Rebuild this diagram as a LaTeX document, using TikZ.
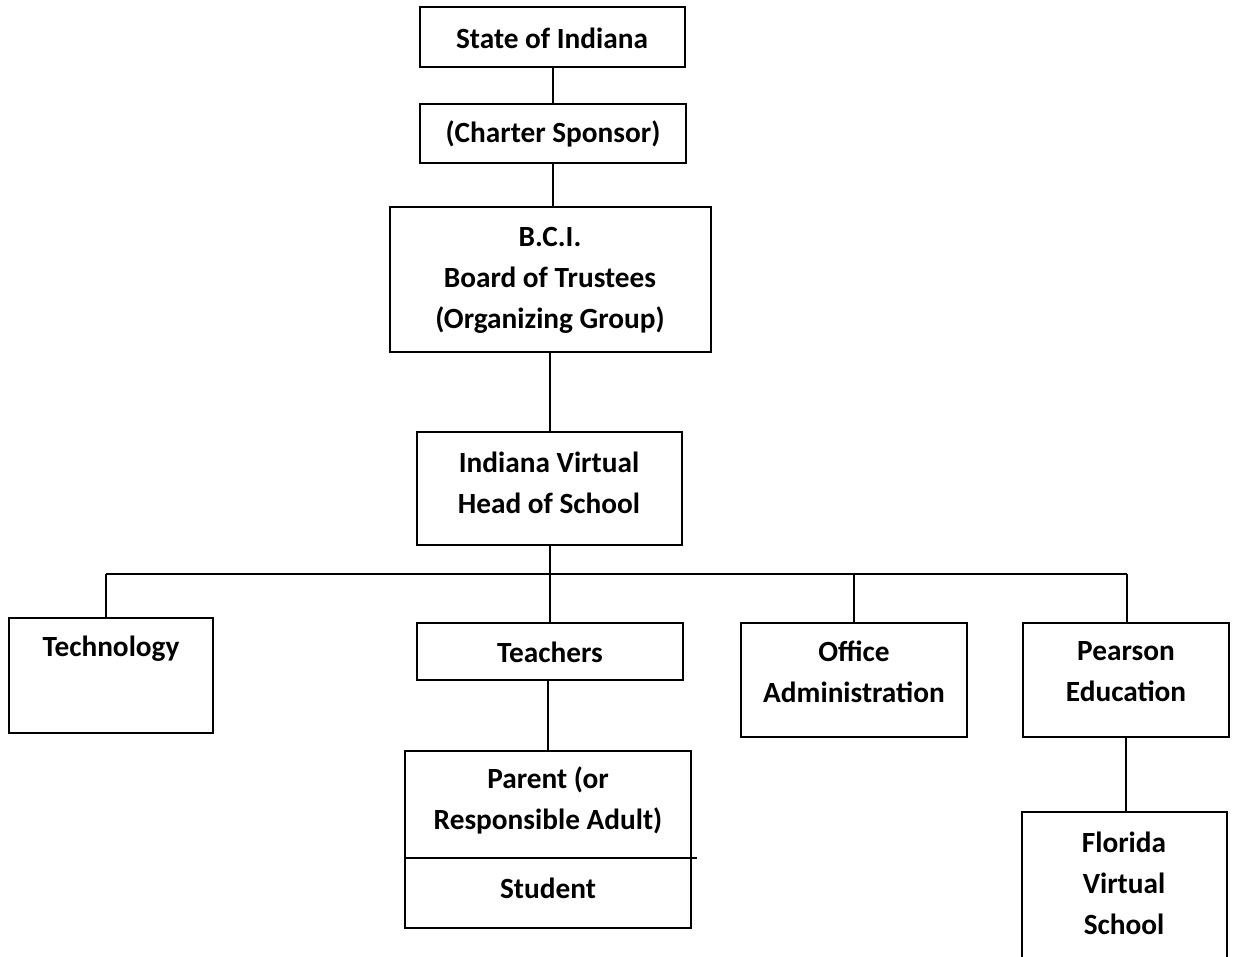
\documentclass[tikz,border=0pt]{standalone}
\usepackage{fontspec}
\setmainfont{Carlito}
\begin{document}
\begin{tikzpicture}[x=1pt,y=-1pt,
  box/.style={draw=black,line width=2pt,inner sep=0pt,rectangle},
  link/.style={draw=black,line width=2pt},
  txt/.style={align=center,inner sep=0pt,font=\fontsize{29.3}{41}\selectfont\bfseries}]
\clip (0,0) rectangle (1233,957);
\fill[white] (0,0) rectangle (1233,957);
% boxes
\node[box,minimum width=265pt,minimum height=60pt] (state) at (552.5,37) {};
\node[box,minimum width=266pt,minimum height=59pt] (charter) at (553,133.5) {};
\node[box,minimum width=321pt,minimum height=145pt] (bci) at (550.5,279.5) {};
\node[box,minimum width=265pt,minimum height=113pt] (ivhs) at (549.5,488.5) {};
\node[box,minimum width=204pt,minimum height=115pt] (tech) at (111,675.5) {};
\node[box,minimum width=266pt,minimum height=57pt] (teach) at (550,651.5) {};
\node[box,minimum width=286pt,minimum height=177pt] (parent) at (548,839.5) {};
\node[box,minimum width=226pt,minimum height=114pt] (office) at (854,680) {};
\node[box,minimum width=206pt,minimum height=114pt] (pearson) at (1126,680) {};
\node[box,minimum width=205pt,minimum height=180pt] (florida) at (1124.5,902) {};
% texts
\node[txt] (tstate) at (552,38) {State of Indiana};
\node[txt] (tcharter) at (553,134) {(Charter Sponsor)};
\node[txt] (tbci) at (550,280) {B.C.I.\\Board of Trustees\\(Organizing Group)};
\node[txt] (tivhs) at (549,483) {Indiana Virtual\\Head of School};
\node[txt] (ttech) at (111,649) {Technology};
\node[txt] (tteach) at (550,652) {Teachers};
\node[txt] (tparent) at (548,800) {Parent (or\\Responsible Adult)};
\node[txt] (tstudent) at (548,888) {Student};
\node[txt] (toffice) at (854,672) {Office\\Administration};
\node[txt] (tpearson) at (1126,672) {Pearson\\Education};
\node[txt] (tflorida) at (1124,883) {Florida\\Virtual\\School};
% connectors
\coordinate (busL) at (106,574);
\coordinate (busR) at (1127,574);
\coordinate (divL) at (405,858);
\coordinate (divR) at (697,858);
\draw[link] (state.south) -- (state.south |- charter.north);
\draw[link] (charter.south) -- (charter.south |- bci.north);
\draw[link] (ivhs.north |- bci.south) -- (ivhs.north);
\draw[link] (ivhs.south) -- (ivhs.south |- busL);
\draw[link] (busL) -- (busR);
\draw[link] (busL) -- (busL |- tech.north);
\draw[link] (teach.north |- busL) -- (teach.north);
\draw[link] (office.north |- busL) -- (office.north);
\draw[link] (busR) -- (busR |- pearson.north);
\draw[link] (pearson.south) -- (pearson.south |- florida.north);
\draw[link] (teach.south -| parent.north) -- (parent.north);
\draw[link] (divL) -- (divR);
\end{tikzpicture}
\end{document}
